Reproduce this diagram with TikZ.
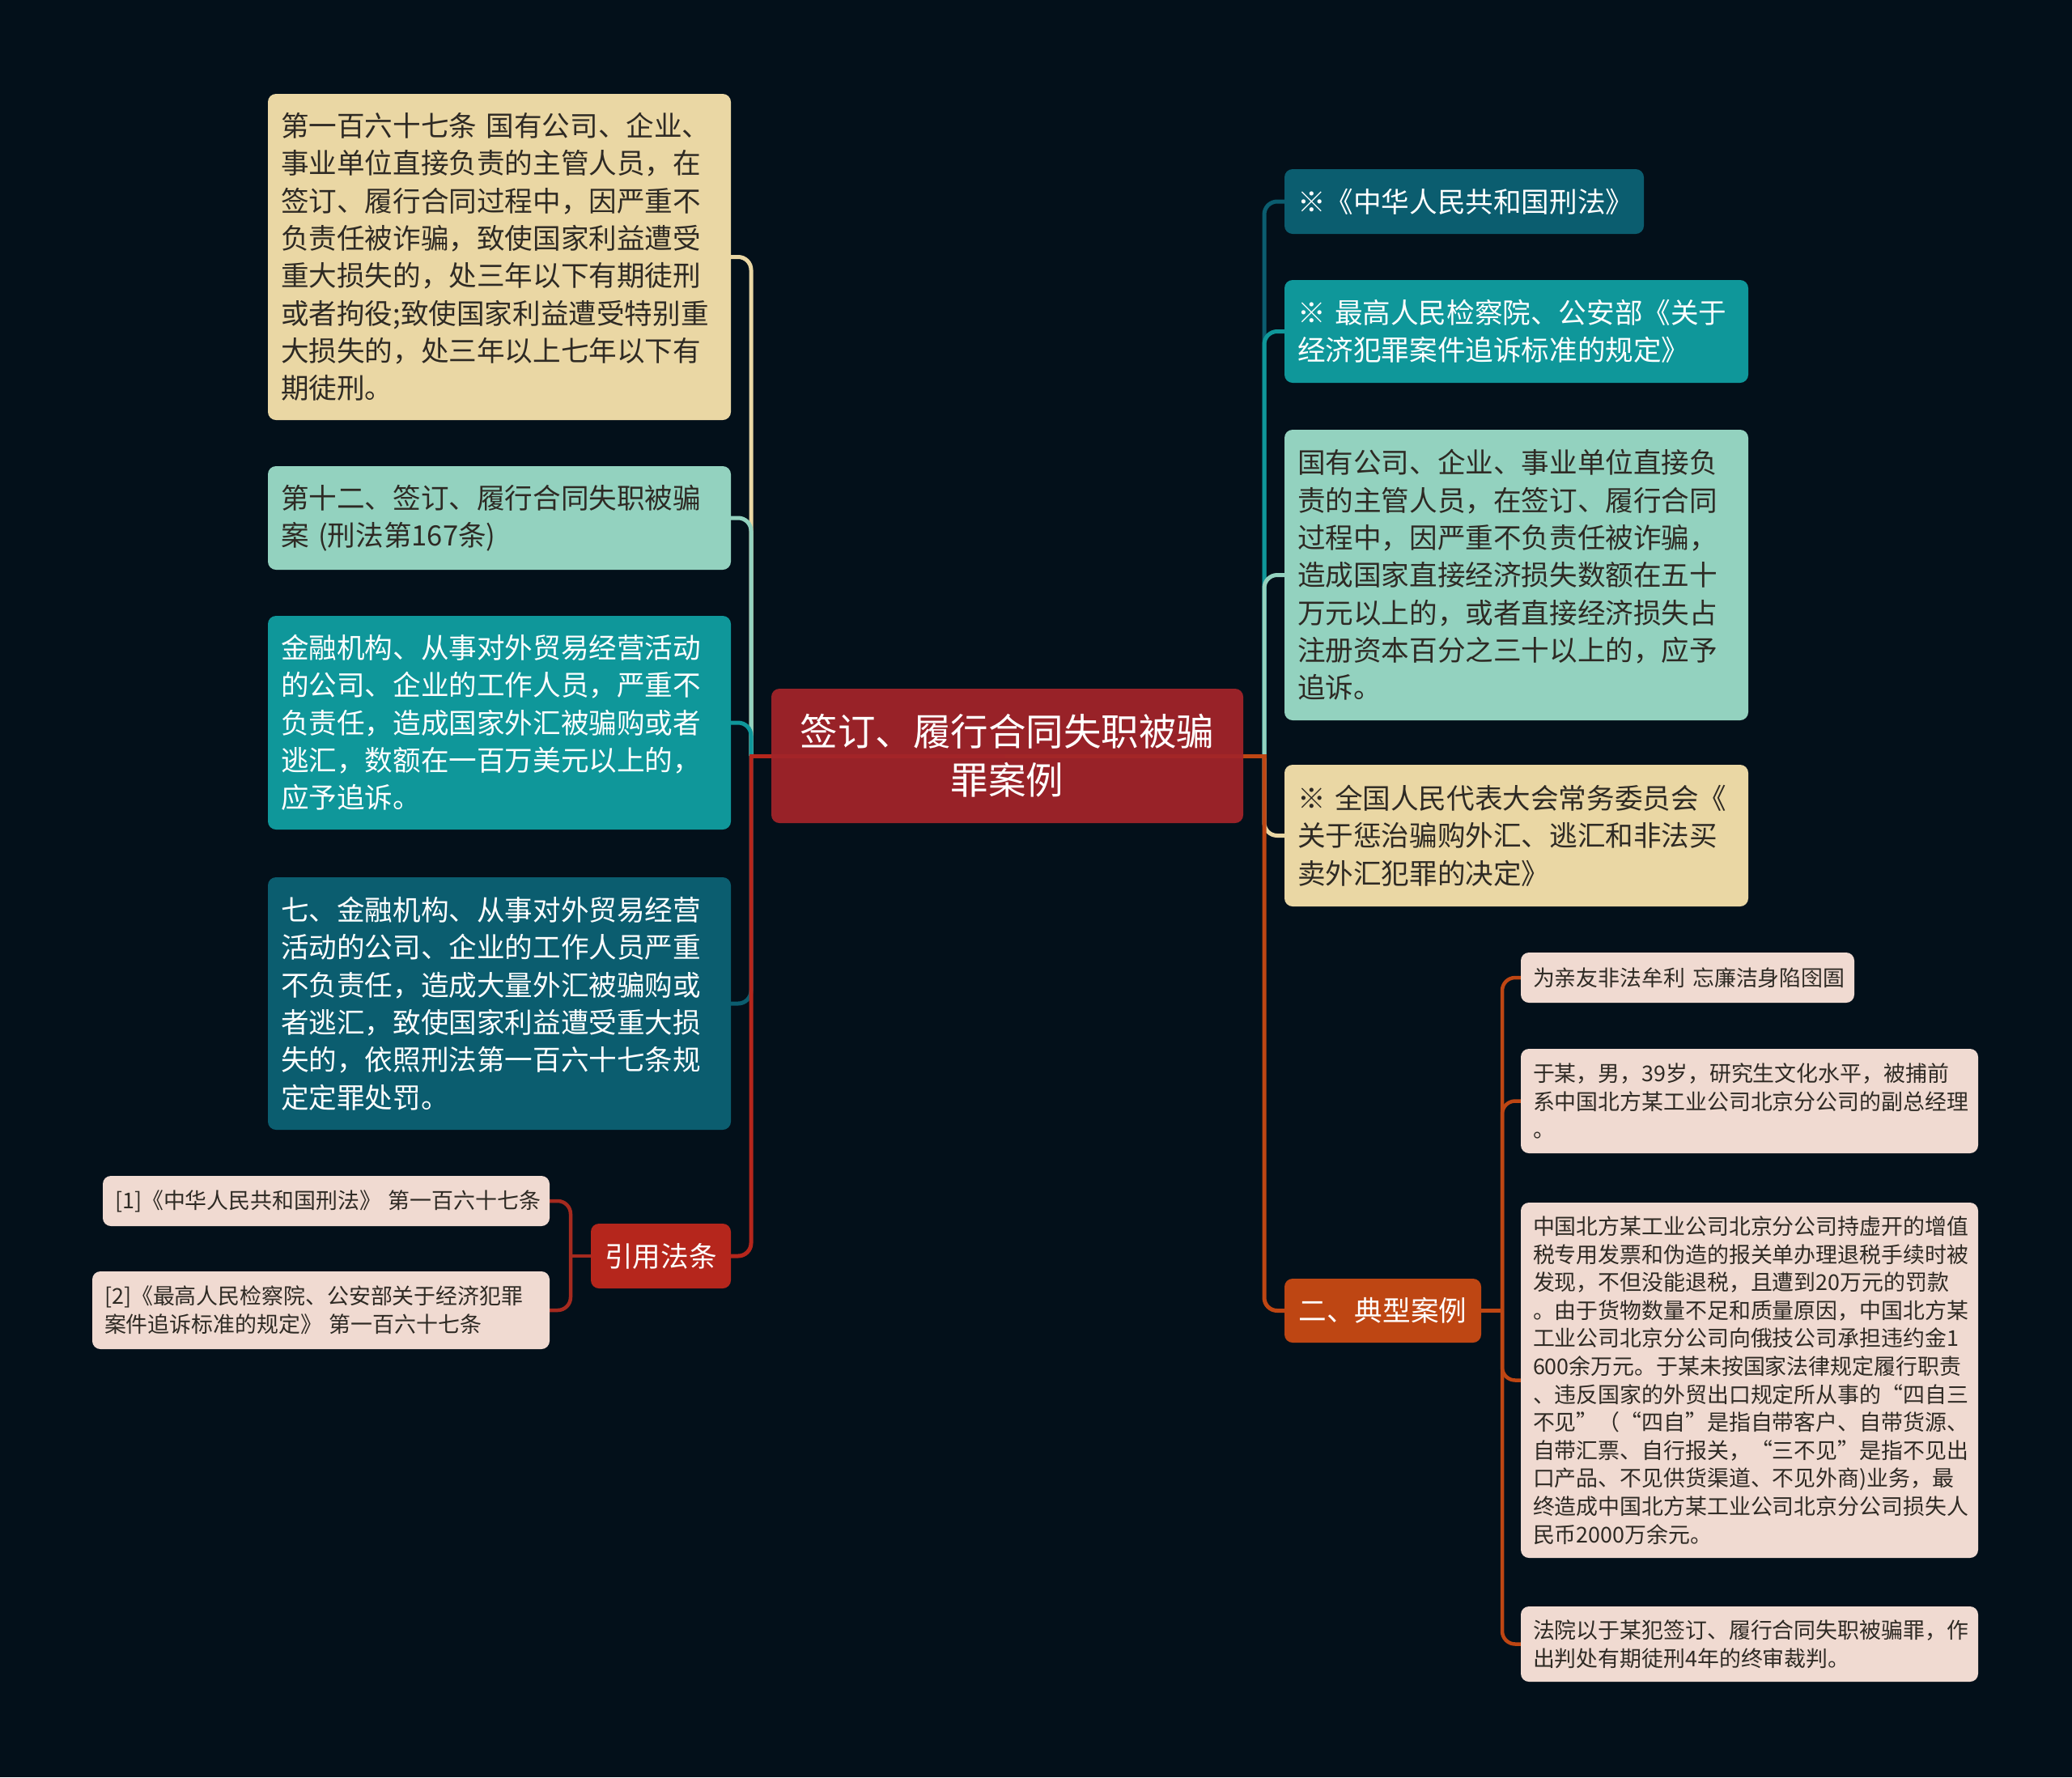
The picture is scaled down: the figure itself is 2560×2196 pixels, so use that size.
\documentclass[tikz,border=0pt]{standalone}
\usepackage{fontspec}
\setmainfont{Noto Sans CJK SC}
\definecolor{bg}{HTML}{03101A}
\definecolor{rootred}{HTML}{A22429}
\definecolor{sand}{HTML}{EAD7A4}
\definecolor{mint}{HTML}{93D2BF}
\definecolor{lawteal}{HTML}{0F979A}
\definecolor{deepteal}{HTML}{0B5D6F}
\definecolor{citered}{HTML}{B5261C}
\definecolor{twigred}{HTML}{A52A1F}
\definecolor{caseorange}{HTML}{BE4613}
\definecolor{blush}{HTML}{F0DAD1}
\definecolor{ink}{HTML}{2E2A24}
\newcommand{\leaffont}{\fontsize{34.6pt}{46.3pt}\selectfont}
\newcommand{\notefont}{\fontsize{26.9pt}{34.6pt}\selectfont}
\newcommand{\rootfont}{\fontsize{46.5pt}{60pt}\selectfont}
\pgfdeclarelayer{links}
\pgfsetlayers{links,main}
\tikzset{
  card/.style={rounded corners=10pt, inner ysep=0pt, align=left},
  leaf/.style={card, inner xsep=16pt, font=\leaffont},
  note/.style={card, inner xsep=15pt, fill=blush, text=ink, font=\notefont},
  link/.style={line width=5pt, draw=#1},
  twig/.style={line width=4.5pt, draw=#1},
}
% stub from the parent to the spine, then round into the child
\newcommand{\branch}[5]{
  \draw[#1=#2, line cap=rect] (#3.center) -- (#3.center -| #4);
  \draw[#1=#2, rounded corners=16pt] (#3.center -| #4) |- (#5);
}

\begin{document}
\begin{tikzpicture}[x=1pt,y=-1pt]
  \useasboundingbox (0,0) rectangle (2560,2196);
  \begin{pgfonlayer}{links}
    \fill[bg] (0,0) rectangle (2560,2196);
  \end{pgfonlayer}

  \node[card, fill=rootred, fill opacity=0.94, text opacity=1, text=white, font=\rootfont, align=center,
    minimum width=583pt, minimum height=166pt] (root) at (1244.5,934) {签订、履行合同失职被骗\\罪案例};

  % left side
  \node[leaf, fill=sand, text=ink, minimum width=572pt, minimum height=403pt, text width=540pt] (law167) at (617,317.5)
    {第一百六十七条~国有公司、企业、\\事业单位直接负责的主管人员，在\\签订、履行合同过程中，因严重不\\负责任被诈骗，致使国家利益遭受\\重大损失的，处三年以下有期徒刑\\或者拘役;致使国家利益遭受特别重\\大损失的，处三年以上七年以下有\\期徒刑。};
  \node[leaf, fill=mint, text=ink, minimum width=572pt, minimum height=128pt, text width=540pt] (item12) at (617,640)
    {第十二、签订、履行合同失职被骗\\案~(刑法第167条)};
  \node[leaf, fill=lawteal, text=white, minimum width=572pt, minimum height=264pt, text width=540pt] (forex) at (617,893)
    {金融机构、从事对外贸易经营活动\\的公司、企业的工作人员，严重不\\负责任，造成国家外汇被骗购或者\\逃汇，数额在一百万美元以上的，\\应予追诉。};
  \node[leaf, fill=deepteal, text=white, minimum width=572pt, minimum height=312pt, text width=540pt] (item7) at (617,1240)
    {七、金融机构、从事对外贸易经营\\活动的公司、企业的工作人员严重\\不负责任，造成大量外汇被骗购或\\者逃汇，致使国家利益遭受重大损\\失的，依照刑法第一百六十七条规\\定定罪处罚。};
  \node[leaf, fill=citered, text=white, align=center, minimum width=173pt, minimum height=80pt] (cite) at (816.5,1552) {引用法条};
  \node[note, minimum width=552pt, minimum height=62pt, text width=522pt] (ref1) at (403,1484)
    {[1]《中华人民共和国刑法》~第一百六十七条};
  \node[note, minimum width=565pt, minimum height=96pt, text width=535pt] (ref2) at (396.5,1619)
    {[2]《最高人民检察院、公安部关于经济犯罪\\案件追诉标准的规定》~第一百六十七条};

  % right side
  \node[leaf, fill=deepteal, text=white, minimum width=444pt, minimum height=80pt, text width=412pt] (penal) at (1809,249)
    {※《中华人民共和国刑法》};
  \node[leaf, fill=lawteal, text=white, minimum width=573pt, minimum height=127pt, text width=541pt] (standard) at (1873.5,409.5)
    {※~最高人民检察院、公安部《关于\\经济犯罪案件追诉标准的规定》};
  \node[leaf, fill=mint, text=ink, minimum width=573pt, minimum height=359pt, text width=541pt] (prosecute) at (1873.5,710.5)
    {国有公司、企业、事业单位直接负\\责的主管人员，在签订、履行合同\\过程中，因严重不负责任被诈骗，\\造成国家直接经济损失数额在五十\\万元以上的，或者直接经济损失占\\注册资本百分之三十以上的，应予\\追诉。};
  \node[leaf, fill=sand, text=ink, minimum width=573pt, minimum height=175pt, text width=541pt] (decision) at (1873.5,1032.5)
    {※~全国人民代表大会常务委员会《\\关于惩治骗购外汇、逃汇和非法买\\卖外汇犯罪的决定》};
  \node[leaf, fill=caseorange, text=white, align=center, minimum width=243pt, minimum height=79pt] (cases) at (1708.5,1619.5) {二、典型案例};
  \node[note, minimum width=412pt, minimum height=62pt, text width=382pt] (case1) at (2085,1208)
    {为亲友非法牟利~忘廉洁身陷囹圄};
  \node[note, minimum width=565pt, minimum height=129pt, text width=535pt] (case2) at (2161.5,1360.5)
    {于某，男，39岁，研究生文化水平，被捕前\\系中国北方某工业公司北京分公司的副总经理\\。};
  \node[note, minimum width=565pt, minimum height=439pt, text width=535pt] (case3) at (2161.5,1705.5)
    {中国北方某工业公司北京分公司持虚开的增值\\税专用发票和伪造的报关单办理退税手续时被\\发现，不但没能退税，且遭到20万元的罚款\\。由于货物数量不足和质量原因，中国北方某\\工业公司北京分公司向俄技公司承担违约金1\\600余万元。于某未按国家法律规定履行职责\\、违反国家的外贸出口规定所从事的“四自三\\不见”（“四自”是指自带客户、自带货源、\\自带汇票、自行报关，“三不见”是指不见出\\口产品、不见供货渠道、不见外商)业务，最\\终造成中国北方某工业公司北京分公司损失人\\民币2000万余元。};
  \node[note, minimum width=565pt, minimum height=93pt, text width=535pt] (case4) at (2161.5,2031.5)
    {法院以于某犯签订、履行合同失职被骗罪，作\\出判处有期徒刑4年的终审裁判。};

  \coordinate (lspine) at (928,934);
  \coordinate (rspine) at (1562,934);
  \coordinate (cspine) at (705,1552);
  \coordinate (espine) at (1856,1620);

  \begin{pgfonlayer}{links}
    \branch{link}{sand}{root}{lspine}{law167}
    \branch{link}{mint}{root}{lspine}{item12}
    \branch{link}{lawteal}{root}{lspine}{forex}
    \branch{link}{deepteal}{root}{lspine}{item7}
    \branch{link}{citered}{root}{lspine}{cite}
    \branch{link}{deepteal}{root}{rspine}{penal}
    \branch{link}{lawteal}{root}{rspine}{standard}
    \branch{link}{mint}{root}{rspine}{prosecute}
    \branch{link}{sand}{root}{rspine}{decision}
    \branch{link}{caseorange}{root}{rspine}{cases}
    \branch{twig}{twigred}{cite}{cspine}{ref1}
    \branch{twig}{twigred}{cite}{cspine}{ref2}
    \branch{twig}{caseorange}{cases}{espine}{case1}
    \branch{twig}{caseorange}{cases}{espine}{case2}
    \branch{twig}{caseorange}{cases}{espine}{case3}
    \branch{twig}{caseorange}{cases}{espine}{case4}
    %\branch{link}{citered}{root}{lspine}{ref1}
  \end{pgfonlayer}
\end{tikzpicture}
\end{document}
